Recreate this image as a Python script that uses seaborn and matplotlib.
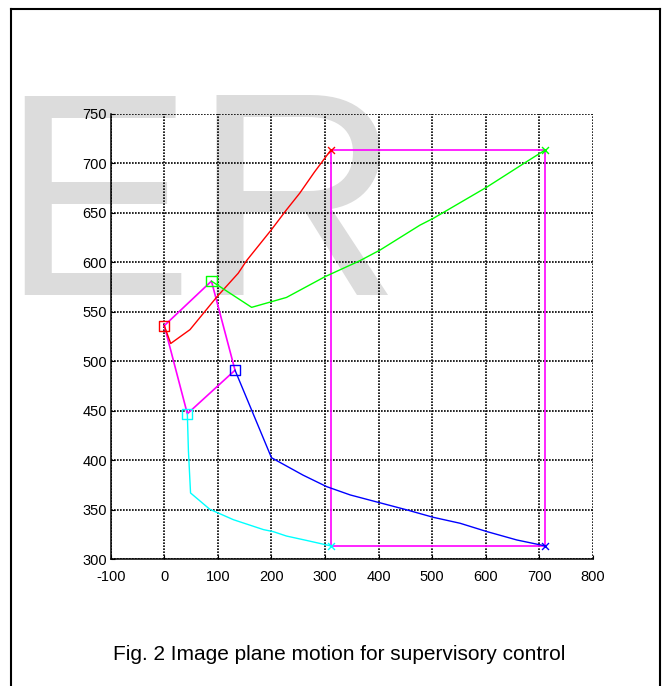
import matplotlib
matplotlib.use("Agg")
import matplotlib.pyplot as plt
from matplotlib.lines import Line2D
import seaborn as sns

# ---- data (image-plane coordinates) ----
red_x = [0, 12, 48, 98, 138, 154, 200, 228, 253, 280, 311]
red_y = [536, 518, 532, 565, 589, 602, 633, 653, 670, 691, 713.5]

green_x = [88, 163, 228, 300, 365, 403, 477, 502, 602, 676, 711]
green_y = [581, 554.5, 564.5, 585.5, 601.6, 612.5, 637.5, 644.4, 676, 701.6, 713.5]

blue_x = [132, 200, 259, 303, 347, 403, 452, 502, 552, 602, 658, 711]
blue_y = [491, 402.6, 385, 373.4, 365, 357, 350, 342.4, 336.4, 328, 319.5, 313.5]

cyan_x = [43, 45, 49, 85, 129, 185, 203, 228, 266, 311]
cyan_y = [447, 410, 367, 350.5, 340, 330, 328, 323.5, 319, 313.5]

x_ticks = [-100, 0, 100, 200, 300, 400, 500, 600, 700, 800]
y_ticks = [300, 350, 400, 450, 500, 550, 600, 650, 700, 750]

caption = "Fig. 2 Image plane motion for supervisory control"
watermark = "ER"

trajectories = [
    (red_x, red_y, "#ff0000"),
    (green_x, green_y, "#00ff00"),
    (blue_x, blue_y, "#0000ff"),
    (cyan_x, cyan_y, "#00ffff"),
]

# magenta polygons joining start points and end points
start_x = [t[0][0] for t in trajectories] + [trajectories[0][0][0]]
start_y = [t[1][0] for t in trajectories] + [trajectories[0][1][0]]
end_x = [t[0][-1] for t in trajectories] + [trajectories[0][0][-1]]
end_y = [t[1][-1] for t in trajectories] + [trajectories[0][1][-1]]

plt.rcParams["font.family"] = ["Liberation Sans", "DejaVu Sans"]

W, H = 663, 686
fig = plt.figure(figsize=(W / 100, H / 100), dpi=100)

# watermark behind everything
fig.text(0.5 / W, 1 - 295 / H, watermark, fontsize=208, color="#dcdcdc",
         ha="left", va="baseline", zorder=-5)

ax = fig.add_axes([110.7 / W, 1 - 559.3 / H, (593 - 110.7) / W, (559.3 - 113.8) / H])
ax.patch.set_alpha(0)

mag = "#ff00ff"
sns.lineplot(x=start_x, y=start_y, sort=False, estimator=None, color=mag,
             linewidth=1.2, ax=ax, zorder=3)
sns.lineplot(x=end_x, y=end_y, sort=False, estimator=None, color=mag,
             linewidth=1.2, ax=ax, zorder=3)

for xs, ys, c in trajectories:
    sns.lineplot(x=xs, y=ys, sort=False, estimator=None, color=c,
                 linewidth=1.0, ax=ax, zorder=4)
    sns.scatterplot(x=[xs[0]], y=[ys[0]], marker="s", s=55, color=c,
                    facecolor="none", edgecolor=c, linewidth=1.0, ax=ax, zorder=5)
    sns.scatterplot(x=[xs[-1]], y=[ys[-1]], marker="x", s=25, color=c,
                    linewidth=1.0, ax=ax, zorder=5)

ax.set_xlim(-100, 800)
ax.set_ylim(300, 750)
ax.set_xticks(x_ticks)
ax.set_yticks(y_ticks)
ax.set_xticklabels([str(v) for v in x_ticks])
ax.set_yticklabels([str(v) for v in y_ticks])
ax.set_xlabel("")
ax.set_ylabel("")

ax.grid(True, color="black", linestyle=(0, (1, 0.8)), linewidth=1.2, zorder=1)
ax.set_axisbelow(True)
for s in ["top", "right"]:
    ax.spines[s].set_visible(False)
for s in ["left", "bottom"]:
    ax.spines[s].set_color("black")
    ax.spines[s].set_linewidth(1.1)

ax.tick_params(axis="both", direction="in", length=3, width=0.8,
               labelsize=10.5, colors="black", top=False, right=False)
ax.tick_params(axis="x", pad=7.5)
ax.tick_params(axis="y", pad=2.5)

# caption
fig.text(339 / W, 1 - 654 / H, caption, ha="center", va="center", fontsize=15)

# frame around the figure (left, top, right)
lw = 1.5
fig.add_artist(Line2D([10.5 / W, 10.5 / W], [0, 1 - 8.5 / H], color="black", lw=lw,
                      transform=fig.transFigure))
fig.add_artist(Line2D([10.5 / W, 660 / W], [1 - 8.5 / H, 1 - 8.5 / H], color="black", lw=lw,
                      transform=fig.transFigure))
fig.add_artist(Line2D([660 / W, 660 / W], [0, 1 - 8.5 / H], color="black", lw=lw,
                      transform=fig.transFigure))

fig.savefig("out.png", dpi=100, facecolor="white")
